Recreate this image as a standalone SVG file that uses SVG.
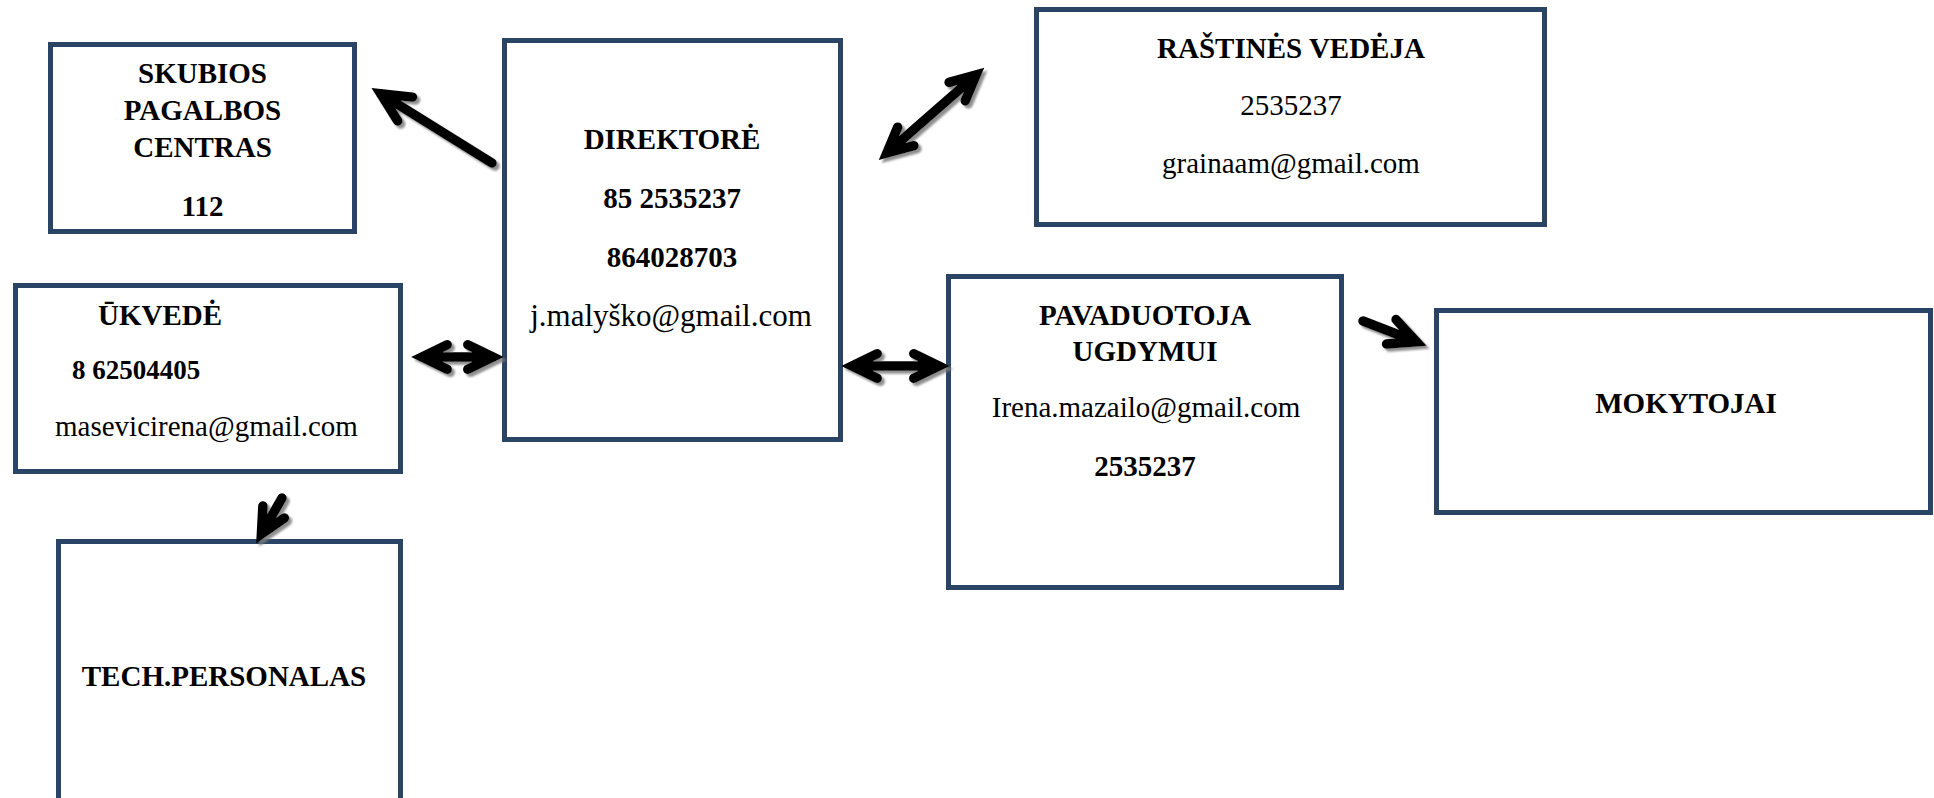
<svg xmlns="http://www.w3.org/2000/svg" width="1934" height="798" viewBox="0 0 1934 798">
<defs>
<style>
.box{fill:#ffffff;stroke:#2a4466;stroke-width:5}
.t{font-family:"Liberation Serif","Times New Roman",serif;font-size:29px;fill:#000;text-anchor:middle}
.b{font-weight:bold}
.s{text-anchor:start}
.arr{fill:none;stroke:#000;stroke-width:9.5;stroke-linejoin:miter;stroke-miterlimit:6;stroke-linecap:round}
</style>
<filter id="sh" x="-20%" y="-20%" width="140%" height="140%">
<feDropShadow dx="3" dy="3" stdDeviation="1" flood-color="#7a7a7a" flood-opacity="0.85"/>
</filter>
</defs>
<rect width="1934" height="798" fill="#ffffff"/>

<g id="skubios">
<rect class="box" x="50.5" y="44.5" width="304" height="187"/>
<text class="t b" x="202.5" y="83">SKUBIOS</text>
<text class="t b" x="202.5" y="120">PAGALBOS</text>
<text class="t b" x="202.5" y="157">CENTRAS</text>
<text class="t b" x="202.5" y="216">112</text>
</g>

<g id="direktore">
<rect class="box" x="504.5" y="40.5" width="336" height="399"/>
<text class="t b" x="672" y="149">DIREKTORĖ</text>
<text class="t b" x="672" y="208">85 2535237</text>
<text class="t b" x="672" y="267">864028703</text>
<text class="t" x="671" y="326" style="font-size:31px">j.malyško@gmail.com</text>
</g>

<g id="rastines">
<rect class="box" x="1036.5" y="9.5" width="508" height="215"/>
<text class="t b" x="1291" y="58">RAŠTINĖS VEDĖJA</text>
<text class="t" x="1291" y="115">2535237</text>
<text class="t" x="1291" y="173">grainaam@gmail.com</text>
</g>

<g id="ukvede">
<rect class="box" x="15.5" y="285.5" width="385" height="186"/>
<text class="t b s" x="98" y="325">ŪKVEDĖ</text>
<text class="t b s" x="72" y="379" style="font-size:27px">8 62504405</text>
<text class="t s" x="55" y="436">masevicirena@gmail.com</text>
</g>

<g id="tech">
<rect class="box" x="58.5" y="541.5" width="342" height="280"/>
<text class="t b" x="224" y="686">TECH.PERSONALAS</text>
</g>

<g id="pavaduotoja">
<rect class="box" x="948.5" y="276.5" width="393" height="311"/>
<text class="t b" x="1145" y="325">PAVADUOTOJA</text>
<text class="t b" x="1145" y="361">UGDYMUI</text>
<text class="t" x="1146" y="417">Irena.mazailo@gmail.com</text>
<text class="t b" x="1145" y="476">2535237</text>
</g>

<g id="mokytojai">
<rect class="box" x="1436.5" y="310.5" width="494" height="202"/>
<text class="t b" x="1686" y="413">MOKYTOJAI</text>
</g>

<g id="connectors" filter="url(#sh)">
<path class="arr" d="M492,163 L380.7,93.8 M397.7,120.9 L380.7,93.8 L412.5,97.1"/>
<path class="arr" d="M886.9,153 L976.1,75 M949.1,82.3 L976.1,75 L965.2,100.8 M913.9,145.7 L886.9,153 L897.7,127.2"/>
<path class="arr" d="M422,357 L493,357 M447.2,344.7 L422,357 L447.2,369.3 M467.8,344.7 L493,357 L467.8,369.3"/>
<path class="arr" d="M852,366 L939,366 M877.2,353.7 L852,366 L877.2,378.3 M913.8,353.7 L939,366 L913.8,378.3"/>
<path class="arr" d="M1363,321 L1416.5,341.7 M1396.1,319.6 L1416.5,341.7 L1386.6,344.1"/>
<path class="arr" d="M282,498 L261.4,534 M284.4,518 L261.4,534 L262.9,506"/>
</g>
</svg>
